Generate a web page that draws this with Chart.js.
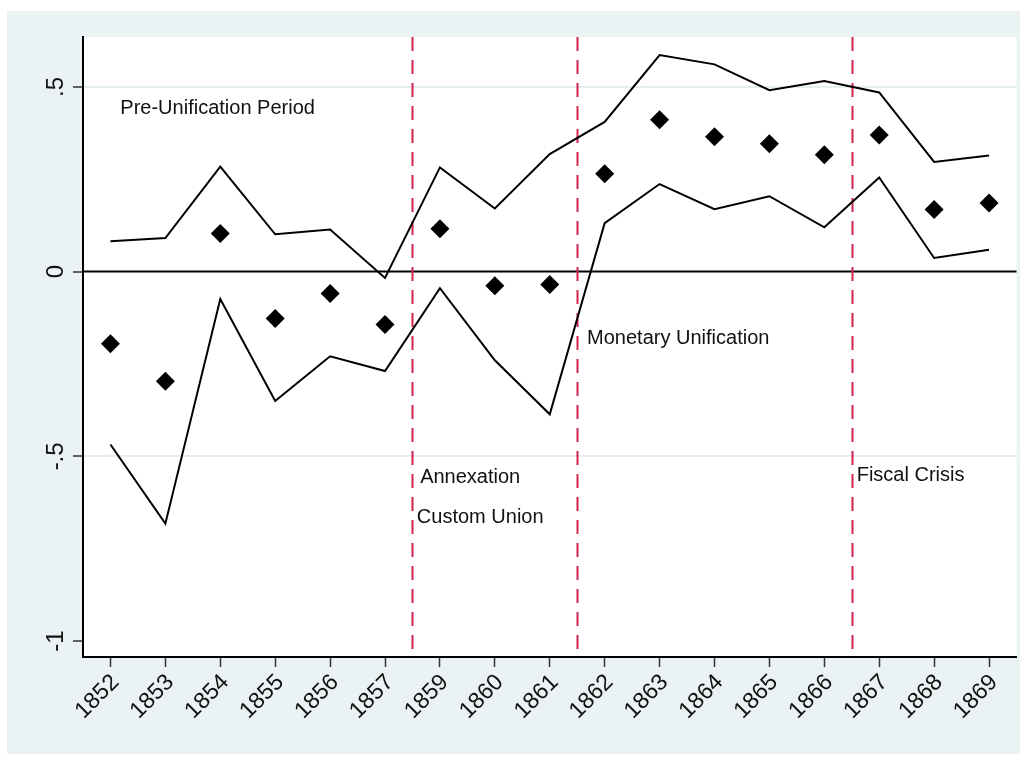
<!DOCTYPE html>
<html>
<head>
<meta charset="utf-8">
<script src="https://cdn.jsdelivr.net/npm/chart.js@4.4.1/dist/chart.umd.min.js"></script>
<style>
  html, body { margin: 0; padding: 0; background: #fff; }
  #bg { position: absolute; left: 7px; top: 11px; width: 1013px; height: 743px; background: #EAF2F3; }
  #wrap { position: absolute; left: 7px; top: 11px; width: 1019px; height: 743px; }
</style>
</head>
<body>
<div id="bg"></div>
<div id="wrap"><canvas id="chart"></canvas></div>
<script>
// x categories (1858 is missing in the source)
const years = ['1852', '1853', '1854', '1855', '1856', '1857', '1859', '1860', '1861',
  '1862', '1863', '1864', '1865', '1866', '1867', '1868', '1869'];

// point estimates (diamonds)
const estimate = [-0.195, -0.297, 0.103, -0.127, -0.059, -0.143, 0.116, -0.038, -0.035,
  0.265, 0.411, 0.365, 0.346, 0.316, 0.370, 0.168, 0.186];

// upper and lower confidence bounds
const upperBound = [0.082, 0.091, 0.284, 0.101, 0.114, -0.017, 0.282, 0.171, 0.318,
  0.405, 0.586, 0.561, 0.491, 0.516, 0.485, 0.297, 0.314];
const lowerBound = [-0.468, -0.682, -0.074, -0.350, -0.229, -0.269, -0.045, -0.240, -0.386,
  0.131, 0.237, 0.169, 0.204, 0.120, 0.255, 0.037, 0.059];

// y axis ticks
const yTickValues = [-1, -0.5, 0, 0.5];
const yTickLabels = ['-1', '-.5', '0', '.5'];

// event lines sit between categories
const eventLines = [5.5, 8.5, 13.5];

// text notes: [label, x index, y value at baseline]
const notes = [
  ['Pre-Unification Period', 0.18, 0.427],
  ['Monetary Unification', 8.68, -0.197],
  ['Annexation', 5.64, -0.573],
  ['Custom Union', 5.58, -0.680],
  ['Fiscal Crisis', 13.59, -0.568]
];

const FONT = '"Liberation Sans", Arial, sans-serif';
const TEXT_COLOR = '#111';

const toPoints = arr => arr.map((v, i) => ({ x: i, y: v }));

// white plot region, zero line, event lines, notes and y labels
const backdrop = {
  id: 'backdrop',
  beforeDraw(chart) {
    const { ctx, chartArea: a } = chart;
    ctx.save();
    ctx.fillStyle = '#fff';
    ctx.fillRect(a.left, a.top, a.right - a.left, a.bottom - a.top);
    ctx.restore();
  },
  beforeDatasetsDraw(chart) {
    const { ctx, chartArea: a, scales } = chart;
    ctx.save();
    const y0 = scales.y.getPixelForValue(0);
    ctx.strokeStyle = '#000';
    ctx.lineWidth = 2;
    ctx.beginPath();
    ctx.moveTo(a.left, y0);
    ctx.lineTo(a.right, y0);
    ctx.stroke();

    ctx.strokeStyle = '#D2234F';
    ctx.lineWidth = 2;
    ctx.setLineDash([14, 9]);
    eventLines.forEach(v => {
      const x = Math.round(scales.x.getPixelForValue(v)) + 0.5;
      ctx.beginPath();
      ctx.moveTo(x, a.top);
      ctx.lineTo(x, a.bottom);
      ctx.stroke();
    });
    ctx.restore();
  },
  afterDraw(chart) {
    const { ctx, chartArea: a, scales } = chart;
    ctx.save();
    ctx.fillStyle = TEXT_COLOR;
    ctx.font = '20px ' + FONT;
    ctx.textBaseline = 'alphabetic';
    ctx.textAlign = 'left';
    notes.forEach(([label, xi, yv]) => {
      ctx.fillText(label, scales.x.getPixelForValue(xi), scales.y.getPixelForValue(yv));
    });

    // rotated y tick labels
    ctx.font = '24px ' + FONT;
    ctx.textAlign = 'center';
    yTickValues.forEach((v, i) => {
      ctx.save();
      ctx.translate(a.left - 20, scales.y.getPixelForValue(v));
      ctx.rotate(-Math.PI / 2);
      ctx.fillText(yTickLabels[i], 0, 0);
      ctx.restore();
    });
    ctx.restore();
  }
};

const lineStyle = {
  borderColor: '#000',
  borderWidth: 2,
  pointRadius: 0,
  showLine: true,
  fill: false,
  tension: 0
};

new Chart(document.getElementById('chart'), {
  type: 'scatter',
  data: {
    datasets: [
      Object.assign({ label: 'Upper', data: toPoints(upperBound) }, lineStyle),
      Object.assign({ label: 'Lower', data: toPoints(lowerBound) }, lineStyle),
      {
        label: 'Estimate',
        data: toPoints(estimate),
        showLine: false,
        pointStyle: 'rectRot',
        pointRadius: 9.5,
        backgroundColor: '#000',
        borderColor: '#000',
        borderWidth: 0
      }
    ]
  },
  options: {
    responsive: true,
    maintainAspectRatio: false,
    animation: false,
    layout: { padding: { top: 26, right: 0, left: 0, bottom: 0 } },
    plugins: {
      legend: { display: false },
      tooltip: { enabled: false }
    },
    scales: {
      x: {
        type: 'linear',
        min: -0.5,
        max: 16.5,
        afterBuildTicks: scale => {
          scale.ticks = years.map((_, i) => ({ value: i }));
        },
        afterFit: scale => {
          scale.height = 97;
          scale.paddingLeft = 0;
          scale.paddingRight = 0;
        },
        border: { display: true, color: '#000', width: 2 },
        grid: { drawOnChartArea: false, drawTicks: true, tickLength: 10, tickColor: '#333', tickWidth: 1.5 },
        ticks: {
          autoSkip: false,
          minRotation: 45,
          maxRotation: 45,
          padding: 2,
          labelOffset: 5,
          color: TEXT_COLOR,
          font: { family: FONT, size: 23 },
          callback: (v) => years[v]
        }
      },
      y: {
        min: -1.043,
        max: 0.635,
        afterBuildTicks: scale => {
          scale.ticks = yTickValues.map(v => ({ value: v }));
        },
        afterFit: scale => {
          scale.width = 76;
          scale.paddingTop = 0;
          scale.paddingBottom = 0;
        },
        border: { display: true, color: '#000', width: 2 },
        grid: {
          color: ctx => (ctx.tick && Math.abs(ctx.tick.value) === 0.5) ? '#E4EDF0' : 'rgba(0,0,0,0)',
          lineWidth: 2,
          drawTicks: true,
          tickLength: 10,
          tickColor: '#333',
          tickWidth: 1.5
        },
        ticks: { display: false }
      }
    }
  },
  plugins: [backdrop]
});
</script>
</body>
</html>
